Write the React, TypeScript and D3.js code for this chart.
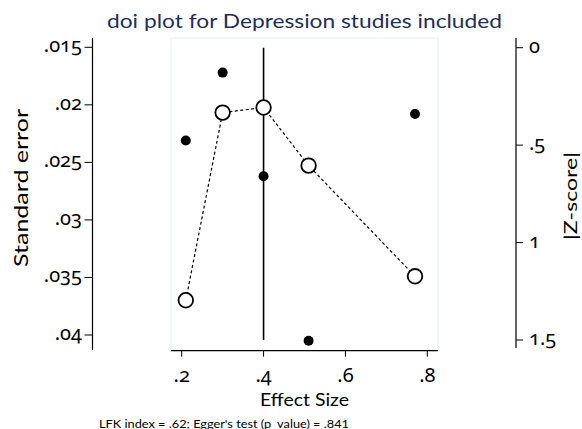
import React from "react";
import * as d3 from "d3";

const effectSizes = [0.21, 0.30, 0.40, 0.51, 0.77];
const standardErrors = [0.0231, 0.0172, 0.0262, 0.0405, 0.0208];
const zScores = [1.296, 0.333, 0.307, 0.605, 1.173];
const xTicks = [0.2, 0.4, 0.6, 0.8];
const seTicks = [0.015, 0.02, 0.025, 0.03, 0.035, 0.04];
const zTicks = [0, 0.5, 1, 1.5];
const title = "doi plot for Depression studies included";
const footnote = "LFK index = .62; Egger's test (p_value) = .841";

const W = 582;
const H = 429;
const FONT = "Lato, 'Open Sans', sans-serif";
const NUMFONT = "'Noto Sans', Lato, sans-serif";

const stataFmt = (v: number) => {
  let s = String(+v.toFixed(4));
  if (s.startsWith("0.")) s = s.slice(1);
  return s;
};

const numStyle = { fontVariantNumeric: "oldstyle-nums", fontFeatureSettings: "'onum' 1" } as React.CSSProperties;

export default function App() {
  const x = d3.scaleLinear().domain([0.2, 0.8]).range([181.7, 427.3]);
  const seY = d3.scaleLinear().domain([0.015, 0.04]).range([47.3, 335]);
  const zY = d3.scaleLinear().domain([0, 1.5]).range([47.7, 340]);

  const idx = d3.range(effectSizes.length).sort((a, b) => effectSizes[a] - effectSizes[b]);
  const line = d3
    .line<number>()
    .x((i) => x(effectSizes[i]))
    .y((i) => zY(zScores[i]));

  const modeIdx = d3.minIndex(zScores);
  const modeX = x(effectSizes[modeIdx]);

  const plotL = 171, plotR = 438, plotT = 38, plotB = 350.7;
  const leftAxisX = 92.5;
  const rightAxisX = 516;

  return (
    <svg
      width={W}
      height={H}
      style={{ position: "absolute", left: 0, top: 0, background: "#fff" }}
      fontFamily={FONT}
    >
      <rect x={0} y={0} width={W} height={H} fill="#fff" />
      {/* title */}
      <text x={304.5} y={28} textAnchor="middle" fontSize={20} fill="#1e2f5a" textLength={395} lengthAdjust="spacingAndGlyphs">
        {title}
      </text>

      {/* plot region */}
      <rect x={plotL} y={plotT} width={plotR - plotL} height={plotB - plotT} fill="none" stroke="#e8eff2" strokeWidth={1} />
      <line x1={plotL} x2={plotR} y1={plotB} y2={plotB} stroke="#000" strokeWidth={1.2} />
      {xTicks.map((t) => (
        <g key={"xt" + t}>
          <line x1={x(t)} x2={x(t)} y1={plotB} y2={plotB + 6} stroke="#000" strokeWidth={1} />
          <text x={x(t)} y={382} textAnchor="middle" fontSize={20} fill="#000" fontFamily={NUMFONT} style={numStyle}>
            {stataFmt(t)}
          </text>
        </g>
      ))}
      <text x={304.5} y={406} textAnchor="middle" fontSize={18} fill="#000" textLength={89} lengthAdjust="spacingAndGlyphs">
        Effect Size
      </text>

      {/* left axis */}
      <line x1={leftAxisX} x2={leftAxisX} y1={38} y2={350} stroke="#000" strokeWidth={1.2} />
      {seTicks.map((t) => (
        <g key={"se" + t}>
          <line x1={leftAxisX - 8} x2={leftAxisX} y1={seY(t)} y2={seY(t)} stroke="#000" strokeWidth={1} />
          <text x={82} y={seY(t) + 5} textAnchor="end" fontSize={20} fill="#000" fontFamily={NUMFONT} style={numStyle}>
            {stataFmt(t)}
          </text>
        </g>
      ))}
      <text
        transform={`translate(28,188) rotate(-90)`}
        textAnchor="middle"
        fontSize={20}
        fill="#000"
        textLength={158}
        lengthAdjust="spacingAndGlyphs"
      >
        Standard error
      </text>

      {/* right axis */}
      <line x1={rightAxisX} x2={rightAxisX} y1={38} y2={348} stroke="#000" strokeWidth={1.2} />
      {zTicks.map((t) => (
        <g key={"z" + t}>
          <line x1={rightAxisX} x2={rightAxisX + 7} y1={zY(t)} y2={zY(t)} stroke="#000" strokeWidth={1} />
          <text x={529} y={zY(t) + 5} textAnchor="start" fontSize={20} fill="#000" fontFamily={NUMFONT} style={numStyle}>
            {stataFmt(t)}
          </text>
        </g>
      ))}
      <text
        transform={`translate(577,196) rotate(-90)`}
        textAnchor="middle"
        fontSize={18}
        fill="#000"
        textLength={88}
        lengthAdjust="spacingAndGlyphs"
      >
        |Z-score|
      </text>

      {/* mode line */}
      <line x1={modeX} x2={modeX} y1={zY(0)} y2={zY(1.5)} stroke="#000" strokeWidth={1.6} />

      {/* doi dashed line */}
      <path d={line(idx) || ""} fill="none" stroke="#000" strokeWidth={1.2} strokeDasharray="3,2.5" />

      {/* funnel points */}
      {effectSizes.map((e, i) => (
        <circle key={"f" + i} cx={x(e)} cy={seY(standardErrors[i])} r={5} fill="#000" />
      ))}

      {/* doi circles */}
      {effectSizes.map((e, i) => (
        <circle key={"d" + i} cx={x(e)} cy={zY(zScores[i])} r={7.3} fill="#fff" stroke="#000" strokeWidth={1.8} />
      ))}

      {/* footnote */}
      <text x={99} y={428} fontSize={11} fill="#000" textLength={250} lengthAdjust="spacingAndGlyphs">
        {footnote}
      </text>
    </svg>
  );
}
